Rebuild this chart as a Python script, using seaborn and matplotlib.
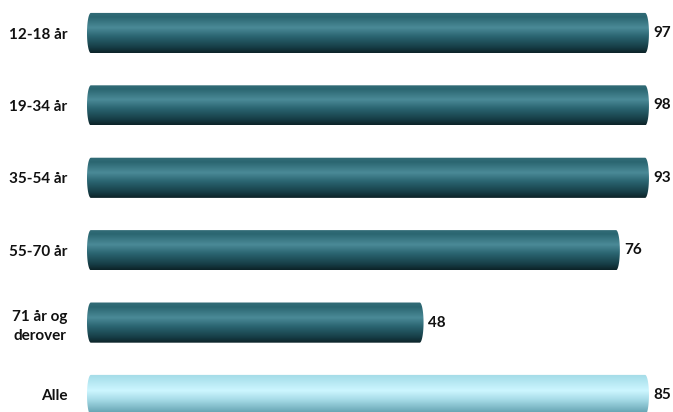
import numpy as np
import pandas as pd
import matplotlib
matplotlib.use("Agg")
import matplotlib.pyplot as plt
from matplotlib.path import Path
from matplotlib.patches import PathPatch
from matplotlib.colors import to_rgb
import seaborn as sns

categories = ["12-18 år", "19-34 år", "35-54 år", "55-70 år", "71 år og\nderover", "Alle"]
values = [97, 98, 93, 76, 48, 85]
highlight = [False, False, False, False, False, True]

XMAX = 80.3

sns.set_theme(style="white")
plt.rcParams["font.family"] = ["Lato", "DejaVu Sans"]

df = pd.DataFrame({"cat": categories, "val": values})

fig = plt.figure(figsize=(6.73, 4.12), dpi=100)
ax = fig.add_axes([87 / 673, 0, (650 - 87) / 673, 1])
sns.barplot(data=df, y="cat", x="val", orient="h", ax=ax, width=0.555,
            color="#2a6470", saturation=1)

dark_stops = [(0.0, "#336d78"), (0.12, "#2b6671"), (0.38, "#4b8a97"),
              (0.6, "#2a6470"), (0.85, "#173f48"), (1.0, "#0c2227")]
light_stops = [(0.0, "#a3dbe7"), (0.12, "#aee3ee"), (0.4, "#cdf6ff"),
               (0.62, "#a7dce8"), (0.85, "#78b4c2"), (1.0, "#5a98a6")]


def gradient(stops, n=200):
    t = np.linspace(0, 1, n)
    pos = [s[0] for s in stops]
    cols = np.array([to_rgb(s[1]) for s in stops])
    out = np.stack([np.interp(t, pos, cols[:, k]) for k in range(3)], axis=1)
    return out[:, None, :]


def capsule(x0, x1, y0, y1, rx):
    yc = (y0 + y1) / 2
    ry = (y1 - y0) / 2
    th = np.linspace(-np.pi / 2, np.pi / 2, 40)
    right = np.column_stack([x1 - rx + rx * np.cos(th), yc + ry * np.sin(th)])
    left = np.column_stack([x0 + rx - rx * np.cos(th), yc - ry * np.sin(th)])
    pts = np.vstack([right, left, right[:1]])
    return Path(pts)


for p, val, hl in zip(ax.patches, values, highlight):
    p.set_visible(False)
    x0 = p.get_x()
    w = min(p.get_width(), XMAX - 0.15)
    y0 = p.get_y()
    h = p.get_height()
    path = capsule(x0, x0 + w, y0, y0 + h, 0.55)
    clip = PathPatch(path, transform=ax.transData, facecolor="none", edgecolor="none")
    ax.add_patch(clip)
    im = ax.imshow(gradient(light_stops if hl else dark_stops), aspect="auto",
                   extent=(x0, x0 + w, y0 + h, y0), origin="upper",
                   interpolation="bilinear", zorder=2)
    im.set_clip_path(clip)
    ax.text(x0 + w + 0.6, y0 + h / 2, f"{val}", va="center", ha="left",
            fontsize=11, fontweight="bold", color="#111111", clip_on=False)

ax.set_xlim(0, XMAX)
ax.set_ylim(5.235, -0.456)
ax.set_xlabel("")
ax.set_ylabel("")
ax.set_xticks([])
for s in ax.spines.values():
    s.set_visible(False)
ax.tick_params(axis="y", length=0, pad=14)
for lbl in ax.get_yticklabels():
    lbl.set_fontweight("bold")
    lbl.set_fontsize(11)
    lbl.set_color("#111111")
    lbl.set_ha("right")
    lbl.set_multialignment("center")
    lbl.set_linespacing(1.45)

fig.savefig("out.png", dpi=100)
